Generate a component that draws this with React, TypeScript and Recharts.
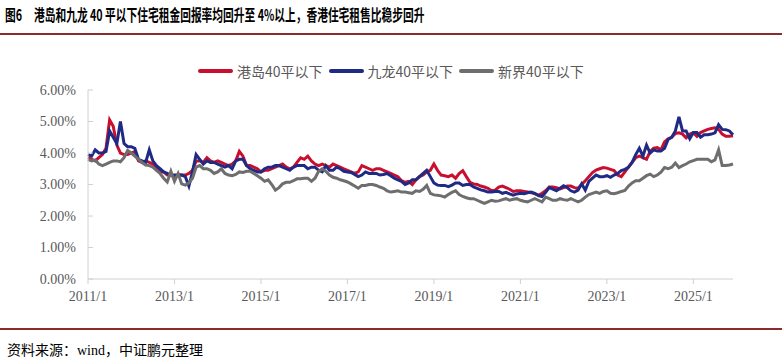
// Hong Kong small-unit (<40 sqm) residential rental yield, 2011/1 - 2025/12
import React from "react"
import { LineChart, Line, XAxis, YAxis } from "recharts"

const months: string[] = []
for (let y = 2011; y <= 2025; y++) {
  for (let m = 1; m <= 12; m++) months.push(`${y}/${m}`)
}

// 港岛40平以下 (%)
const hkIsland = [
  3.85, 3.8, 3.75, 3.85, 3.95, 4.15, 5.05, 4.85, 4.25, 4.0,
  3.95, 3.95, 4.0, 4.05, 3.75, 3.7, 3.75, 3.7, 3.65, 3.5,
  3.4, 3.4, 3.3, 3.3, 3.25, 3.3, 3.3, 3.3, 3.35, 3.45,
  3.75, 3.75, 3.7, 3.85, 3.75, 3.7, 3.75, 3.7, 3.65, 3.6,
  3.65, 3.75, 4.05, 3.9, 3.6, 3.6, 3.55, 3.5, 3.4, 3.45,
  3.45, 3.5, 3.55, 3.6, 3.65, 3.55, 3.5, 3.55, 3.7, 3.85,
  3.8, 3.9, 3.75, 3.65, 3.6, 3.65, 3.6, 3.55, 3.65, 3.6,
  3.55, 3.5, 3.45, 3.4, 3.35, 3.4, 3.6, 3.55, 3.5, 3.45,
  3.5, 3.5, 3.45, 3.4, 3.35, 3.3, 3.25, 3.12, 3.07, 3.1,
  3.0, 3.15, 3.25, 3.3, 3.4, 3.45, 3.65, 3.45, 3.3, 3.28,
  3.25, 3.3, 3.2, 3.35, 3.44, 3.25, 3.07, 3.02, 3.0, 2.95,
  2.92, 2.88, 2.8, 2.82, 2.92, 2.95, 2.9, 2.85, 2.78, 2.8,
  2.8, 2.78, 2.76, 2.74, 2.7, 2.66, 2.72, 2.8, 2.92, 2.92,
  2.9, 2.86, 2.9, 2.95, 2.95, 2.9, 2.88, 3.0, 3.12, 3.25,
  3.38, 3.46, 3.5, 3.54, 3.52, 3.48, 3.44, 3.3, 3.25, 3.4,
  3.55, 3.7, 3.85, 3.9, 3.85, 3.8, 4.05, 4.15, 4.17, 4.1,
  4.35, 4.45, 4.5, 4.62, 4.64, 4.6, 4.48, 4.6, 4.64, 4.53,
  4.65, 4.7, 4.75, 4.78, 4.8, 4.75, 4.6, 4.53, 4.53, 4.55,
]

// 九龙40平以下 (%)
const kowloon = [
  3.95, 3.9, 4.1, 4.0, 4.0, 4.05, 4.7, 4.5, 4.3, 5.0,
  4.3, 4.2, 4.2, 4.15, 3.8, 3.75, 3.7, 4.1, 3.75, 3.6,
  3.5, 3.4, 3.35, 3.3, 3.3, 3.3, 3.3, 3.25, 2.95, 3.4,
  3.95, 3.8, 3.65, 3.75, 3.7, 3.7, 3.65, 3.6, 3.55, 3.6,
  3.5, 3.75, 3.8, 3.8, 3.6, 3.5, 3.45, 3.4, 3.4, 3.5,
  3.55, 3.55, 3.6, 3.6, 3.55, 3.5, 3.45, 3.55, 3.6, 3.6,
  3.6, 3.5, 3.55, 3.55, 3.45, 3.4, 3.6, 3.45, 3.45, 3.55,
  3.5, 3.42, 3.4, 3.38, 3.32, 3.25, 3.3, 3.4, 3.35, 3.35,
  3.35, 3.3, 3.32, 3.35, 3.28, 3.2, 3.15, 3.1, 3.0, 3.05,
  3.15, 3.15, 3.25, 3.35, 3.45, 3.25, 3.05, 2.98, 2.97, 2.97,
  2.93, 2.98, 3.05, 3.05, 2.97, 3.0, 3.0, 2.92, 2.88, 2.83,
  2.8, 2.76, 2.76, 2.78, 2.78, 2.72, 2.75, 2.7, 2.66, 2.7,
  2.72, 2.71, 2.74, 2.76, 2.72, 2.65, 2.62, 2.75, 2.9, 2.85,
  2.8, 2.88, 2.96, 2.9, 2.8, 2.76, 2.82, 3.02, 2.82, 3.1,
  3.2, 3.3, 3.25, 3.25, 3.28, 3.23, 3.3, 3.35, 3.44, 3.48,
  3.55, 3.7, 3.95, 4.15, 3.9, 4.25, 4.0, 4.1, 4.06, 4.06,
  4.15, 4.43, 4.5, 4.7, 5.15, 4.7, 4.7, 4.45, 4.65, 4.65,
  4.5, 4.58, 4.58, 4.6, 4.64, 4.9, 4.75, 4.74, 4.7, 4.58,
]

// 新界40平以下 (%)
const newTerritories = [
  3.8, 3.75, 3.78, 3.65, 3.6, 3.65, 3.7, 3.75, 3.75, 3.72,
  3.85, 4.08, 4.0, 3.9, 3.8, 3.7, 3.62, 3.6, 3.55, 3.45,
  3.35, 3.2, 3.08, 3.42, 3.1, 3.35, 3.02, 2.98, 3.05, 3.2,
  3.55, 3.6, 3.5, 3.5, 3.45, 3.35, 3.4, 3.5, 3.35, 3.3,
  3.28, 3.32, 3.4, 3.38, 3.42, 3.42, 3.35, 3.28, 3.2, 3.1,
  3.15, 3.0, 2.82, 2.9, 3.02, 3.07, 3.07, 3.12, 3.18, 3.18,
  3.2, 3.2, 3.1, 3.2, 3.42, 3.5, 3.42, 3.3, 3.23, 3.2,
  3.15, 3.12, 3.08, 3.02, 2.95, 2.88, 2.97, 2.97, 3.0, 3.0,
  2.97, 2.92, 2.88, 2.8, 2.76, 2.78, 2.8, 2.76, 2.76, 2.74,
  2.72, 2.8, 2.78, 2.85, 2.97, 2.72, 2.67, 2.66, 2.64, 2.6,
  2.68, 2.75, 2.8, 2.68, 2.62, 2.58, 2.55, 2.55, 2.5, 2.45,
  2.4, 2.45, 2.5, 2.47, 2.48, 2.52, 2.55, 2.5, 2.53, 2.55,
  2.5, 2.47, 2.45, 2.5, 2.55, 2.5, 2.45, 2.6, 2.55, 2.5,
  2.5, 2.55, 2.52, 2.5, 2.55, 2.5, 2.45, 2.5, 2.6, 2.68,
  2.72, 2.76, 2.72, 2.78, 2.8, 2.72, 2.71, 2.74, 2.78, 2.81,
  2.95, 3.05, 3.12, 3.12, 3.2, 3.28, 3.33, 3.25, 3.3, 3.39,
  3.54, 3.5, 3.55, 3.68, 3.54, 3.6, 3.65, 3.72, 3.76, 3.8,
  3.8, 3.8, 3.8, 3.72, 3.78, 4.1, 3.6, 3.6, 3.62, 3.65,
]

const yTicks = [0, 1, 2, 3, 4, 5, 6]

const series = [
  { key: "hk", name: "港岛40平以下", color: "#C8102E", values: hkIsland },
  { key: "kln", name: "九龙40平以下", color: "#1F2A85", values: kowloon },
  { key: "nt", name: "新界40平以下", color: "#6E6E6E", values: newTerritories },
]

const data = months.map((month, i) => ({
  month,
  hk: hkIsland[i],
  kln: kowloon[i],
  nt: newTerritories[i],
}))

const cjk = '"Noto Sans CJK SC", "Noto Sans", sans-serif'
const serif = '"Liberation Serif", "DejaVu Serif", serif'
const tickStyle = { fontFamily: serif, fontSize: 14, fill: "#595959" }

const titleStyle: React.CSSProperties = {
  position: "absolute",
  top: 2,
  fontSize: 16,
  fontWeight: 700,
  color: "#000",
  whiteSpace: "nowrap",
  transform: "scaleX(0.67)",
  transformOrigin: "left center",
}

export default function App() {
  return (
    <div
      style={{
        position: "absolute",
        left: 0,
        top: 0,
        width: 782,
        height: 364,
        background: "#fff",
        overflow: "hidden",
        fontFamily: cjk,
      }}
    >
      {/* title */}
      <div style={{ ...titleStyle, left: 5 }}>图6</div>
      <div style={{ ...titleStyle, left: 34 }}>
        港岛和九龙 40 平以下住宅租金回报率均回升至 4%以上，香港住宅租售比稳步回升
      </div>
      <div style={{ position: "absolute", left: 0, top: 33, width: 782, height: 1.5, background: "#8B2B2B" }} />

      {/* legend */}
      <div style={{ position: "absolute", left: 198, top: 61, display: "flex", alignItems: "center", fontSize: 14, color: "#595959" }}>
        {series.map((s) => (
          <div key={s.key} style={{ display: "flex", alignItems: "center", marginRight: 6 }}>
            <span style={{ display: "inline-block", width: 35, height: 4, borderRadius: 2, background: s.color, marginRight: 4 }} />
            <span>{s.name}</span>
          </div>
        ))}
      </div>

      <div style={{ position: "absolute", left: 0, top: 0 }}>
        <LineChart
          width={782}
          height={320}
          data={data}
          margin={{ top: 90, right: 49, bottom: 11, left: 0 }}
        >
          <XAxis
            dataKey="month"
            interval={23}
            height={30}
            tickSize={5}
            tickMargin={7}
            tick={tickStyle}
            axisLine={{ stroke: "#d0d0d0" }}
            tickLine={{ stroke: "#d0d0d0" }}
          />
          <YAxis
            width={88}
            domain={[0, 6]}
            ticks={yTicks}
            tickFormatter={(v: number) => `${v.toFixed(2)}%`}
            tickSize={-5}
            tickMargin={17}
            tick={tickStyle}
            axisLine={{ stroke: "#d0d0d0" }}
            tickLine={{ stroke: "#d0d0d0" }}
          />
          {series.map((s) => (
            <Line
              key={s.key}
              type="linear"
              dataKey={s.key}
              name={s.name}
              stroke={s.color}
              strokeWidth={3}
              dot={false}
              activeDot={false}
              isAnimationActive={false}
            />
          ))}
        </LineChart>
      </div>

      {/* source */}
      <div style={{ position: "absolute", left: 0, top: 328, width: 782, height: 1.5, background: "#8B2B2B" }} />
      <div style={{ position: "absolute", left: 7, top: 339, fontSize: 14, color: "#000", whiteSpace: "nowrap" }}>
        资料来源：<span style={{ fontFamily: serif }}>wind</span>，中证鹏元整理
      </div>
    </div>
  )
}
